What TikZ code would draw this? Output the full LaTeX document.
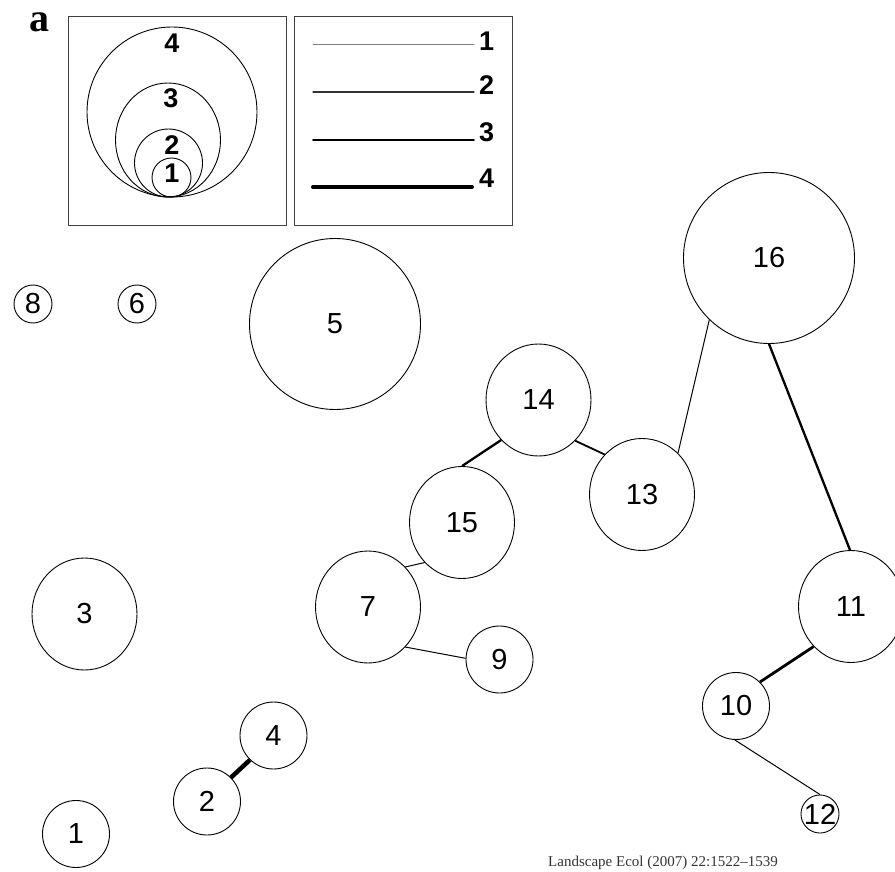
\documentclass[tikz,border=0pt]{standalone}
\usepackage{fontspec}
\setmainfont{Liberation Sans}
\newfontfamily\serifnum{Liberation Serif}
\usetikzlibrary{shapes.geometric}
\tikzset{
  lab/.style={font=\fontsize{29}{29}\selectfont},
  blab/.style={font=\fontsize{27}{27}\selectfont\bfseries, inner sep=0pt},
  sz4/.style={draw, circle, minimum size=171pt, inner sep=0pt, line width=0.9pt, lab},
  sz3/.style={draw, ellipse, minimum width=105pt, minimum height=112pt, inner sep=0pt, line width=0.9pt, lab},
  sz2/.style={draw, circle, minimum size=67pt, inner sep=0pt, line width=0.9pt, lab},
  sz1/.style={draw, circle, minimum size=38pt, inner sep=0pt, line width=0.9pt, lab},
  ew1/.style={line width=1pt},
  ew2/.style={line width=1.8pt},
  ew3/.style={line width=2.3pt},
  ew4/.style={line width=2.8pt},
  ew5/.style={line width=4.5pt},
  legbox/.style={draw=black!75, line width=1pt},
}
\begin{document}
\begin{tikzpicture}[x=1pt,y=-1pt]
\useasboundingbox (0,0) rectangle (895,872);
% legend
\node[font=\fontsize{40}{40}\selectfont\serifnum\bfseries, anchor=base, inner sep=0pt] (lbla) at (40,32) {a};
\node[legbox, minimum width=218pt, minimum height=209pt, inner sep=0pt] (box1) at (177,121.5) {};
\node[legbox, minimum width=218pt, minimum height=209pt, inner sep=0pt] (box2) at (403,121.5) {};
\node[draw, circle, minimum size=170pt, inner sep=0pt, line width=0.9pt] (lc4) at (172,112) {};
\node[draw, ellipse, minimum width=105pt, minimum height=114pt, inner sep=0pt, line width=0.9pt] (lc3) at (168,140) {};
\node[draw, circle, minimum size=68pt, inner sep=0pt, line width=0.9pt] (lc2) at (168.5,163) {};
\node[draw, circle, minimum size=39pt, inner sep=0pt, line width=0.9pt] (lc1) at (171.5,177.5) {};
\node[blab, anchor=base] (lt4) at (172,53) {4};
\node[blab, anchor=base] (lt3) at (171,108) {3};
\node[blab, anchor=base] (lt2) at (172,155) {2};
\node[blab, anchor=base] (lt1) at (172,183) {1};
\node[blab, anchor=base west] (lb1) at (479,51) {1};
\node[blab, anchor=base west] (lb2) at (479,95) {2};
\node[blab, anchor=base west] (lb3) at (479,142) {3};
\node[blab, anchor=base west] (lb4) at (479,188) {4};
\coordinate (la1) at (313,45);  \coordinate (le1) at (474,45);
\coordinate (la2) at (313,92);  \coordinate (le2) at (474,92);
\coordinate (la3) at (313,140); \coordinate (le3) at (474,140);
\coordinate (la4) at (313,187); \coordinate (le4) at (472,187);
\draw[line width=1pt, black!50, line cap=round] (la1) -- (le1);
\draw[line width=1.3pt, black!80, line cap=round] (la2) -- (le2);
\draw[line width=1.8pt, line cap=round] (la3) -- (le3);
\draw[line width=4pt, line cap=round] (la4) -- (le4);
% nodes
\node[sz4] (n16) at (769,258) {16};
\node[sz4] (n5) at (335,324) {5};
\node[sz1] (n8) at (33,304) {8};
\node[sz1] (n6) at (137,304) {6};
\node[sz3] (n14) at (538.5,400) {14};
\node[sz3] (n13) at (642,494.5) {13};
\node[sz3] (n15) at (462,522.5) {15};
\node[sz3] (n7) at (368,607) {7};
\node[sz2] (n9) at (499.5,659.5) {9};
\node[sz3] (n11) at (851,606.5) {11};
\node[sz2] (n10) at (736,706) {10};
\node[sz1] (n12) at (820,814) {12};
\node[sz3] (n3) at (84.5,614) {3};
\node[sz2] (n4) at (273.5,735.5) {4};
\node[sz2] (n2) at (207,801.5) {2};
\node[sz2] (n1) at (76,834) {1};
% edges
\draw[ew1] (n16.226) -- (n13.49);
\draw[ew3] (n16.270) -- (n11.91);
\draw[ew2] (n14.312) -- (n13.133);
\draw[ew3] (n14.227) -- (n15.90);
\draw[ew1] (n15.227) -- (n7.47);
\draw[ew1] (n7.313) -- (n9.178);
\draw[ew4] (n11.227) -- (n10.45);
\draw[ew1] (n10.268) -- (n12.90);
\draw[ew5] (n2.45) -- (n4.226);
% footer
\node[font=\fontsize{15}{15}\selectfont\serifnum, text=black!80] (foot) at (663,863) {Landscape Ecol (2007) 22:1522–1539};
\end{tikzpicture}
\end{document}
